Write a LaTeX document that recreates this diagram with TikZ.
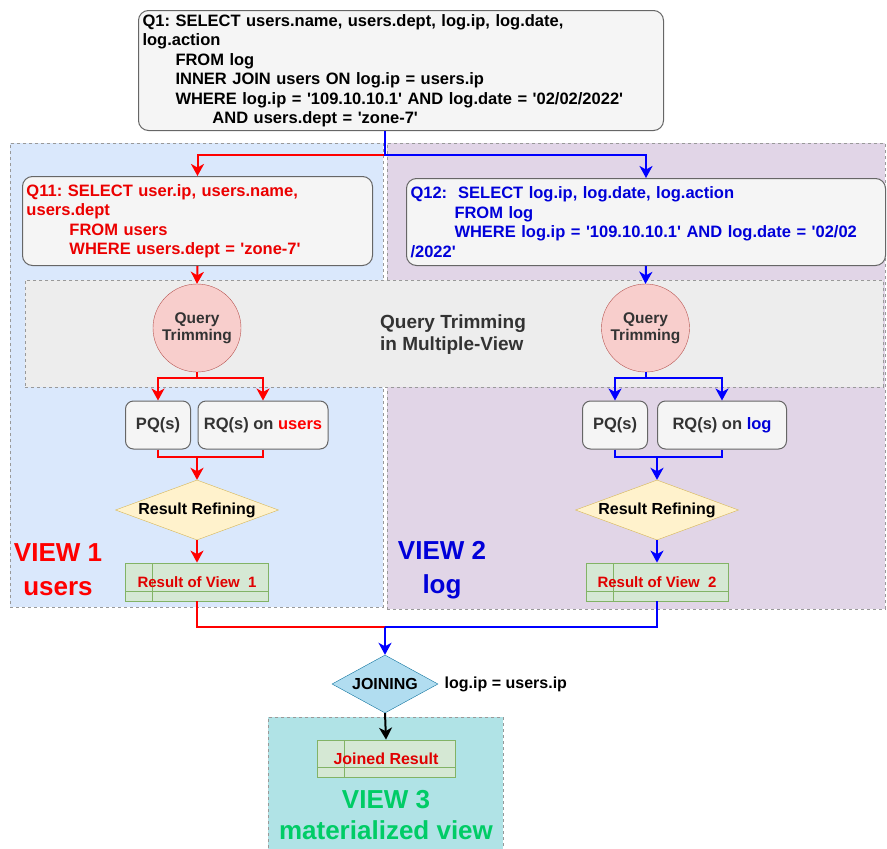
\documentclass[tikz,border=0pt]{standalone}
\usepackage{fontspec}
\setmainfont{Liberation Sans}
\usetikzlibrary{arrows.meta,shapes.geometric,positioning}
\definecolor{qred}{HTML}{FF0000}
\definecolor{qblue}{HTML}{0000FF}
\definecolor{qtext}{HTML}{333333}
\definecolor{viewone}{HTML}{DAE8FC}
\definecolor{viewtwo}{HTML}{E1D5E7}
\definecolor{viewthree}{HTML}{B0E3E6}
\definecolor{trimfill}{HTML}{F8CECC}
\definecolor{trimline}{HTML}{B85450}
\definecolor{refill}{HTML}{FFF2CC}
\definecolor{reline}{HTML}{D6B656}
\definecolor{resfill}{HTML}{D5E8D4}
\definecolor{resline}{HTML}{82B366}
\definecolor{joinfill}{HTML}{B1DDF0}
\definecolor{joinline}{HTML}{10739E}
\definecolor{viewgreen}{HTML}{00CC66}
\newcommand{\qt}{\textquotesingle}
\frenchspacing
\tikzstyle{region}=[draw=black!40,dashed,line width=0.8pt,anchor=north west,inner sep=0pt]
\tikzstyle{query}=[draw=black!60,fill=black!4,rounded corners=10pt,line width=1pt,align=left,anchor=north west,inner sep=3pt,font=\bfseries\fontsize{16.5}{19.5}\selectfont]
\tikzstyle{box}=[draw=black!60,fill=black!4,rounded corners=8pt,line width=1pt,text=qtext,minimum height=48pt,inner sep=0pt,font=\bfseries\fontsize{16.5}{19}\selectfont]
\tikzstyle{trim}=[draw=trimline,fill=trimfill,circle,minimum size=88pt,inner sep=0pt,align=center,text=qtext,font=\bfseries\fontsize{15.5}{17.5}\selectfont]
\tikzstyle{refine}=[draw=reline,fill=refill,diamond,aspect=2.7,inner sep=0pt,minimum width=163pt,minimum height=60pt,font=\bfseries\fontsize{16}{19}\selectfont]
\tikzstyle{restab}=[draw=resline,fill=resfill,line width=0.8pt,minimum height=38pt,text=qred!88!black,font=\bfseries\fontsize{15}{18}\selectfont,
  path picture={\draw[resline,line width=0.8pt]
    ([xshift=27pt]path picture bounding box.north west) -- ([xshift=27pt]path picture bounding box.south west)
    ([yshift=10pt]path picture bounding box.south west) -- ([yshift=10pt]path picture bounding box.south east);}]
\tikzstyle{viewlabel}=[align=center,font=\bfseries\fontsize{26}{34}\selectfont]

\begin{document}
\begin{tikzpicture}[x=1pt,y=-1pt]
\tikzstyle{redline}=[qred,line width=2pt]
\tikzstyle{blueline}=[qblue,line width=2pt]
\tikzstyle{redflow}=[redline,-{Stealth[length=12pt,width=13pt,inset=3.5pt]}]
\tikzstyle{blueflow}=[blueline,-{Stealth[length=12pt,width=13pt,inset=3.5pt]}]
\useasboundingbox (0,0) rectangle (887,849);
  % view regions
  \node[region,fill=viewone,minimum width=373pt,minimum height=464pt] (view1) at (10,143) {};
  \node[region,fill=viewtwo,minimum width=498pt,minimum height=466pt] (view2) at (387,143) {};
  \node[region,fill=black!7,minimum width=858pt,minimum height=107pt] (band) at (25,280) {};
  \node[region,fill=viewthree,minimum width=235pt,minimum height=140pt] (view3) at (268,717) {};

  % queries
  \node[query,minimum width=525pt,minimum height=120pt,text width=517pt] (q1) at (138,10)
    {Q1: SELECT users.name, users.dept, log.ip, log.date,\\
     log.action\\
     \hspace*{33pt}FROM log\\
     \hspace*{33pt}INNER JOIN users ON log.ip = users.ip\\
     \hspace*{33pt}WHERE log.ip = \qt109.10.10.1\qt\ AND log.date = \qt02/02/2022\qt\\
     \hspace*{70pt}AND users.dept = \qt zone-7\qt};
  \node[query,text=qred!92!black,minimum width=350pt,minimum height=89pt,text width=342pt] (q11) at (22,176)
    {Q11: SELECT user.ip, users.name,\\
     users.dept\\
     \hspace*{43pt}FROM users\\
     \hspace*{43pt}WHERE users.dept = \qt zone-7\qt};
  \node[query,text=qblue!85!black,minimum width=479pt,minimum height=87pt,text width=471pt] (q12) at (406,178)
    {Q12:\ \ SELECT log.ip, log.date, log.action\\
     \hspace*{44pt}FROM log\\
     \hspace*{44pt}WHERE log.ip = \qt109.10.10.1\qt\ AND log.date = \qt02/02\\
     /2022\qt};

  % query trimming
  \node[align=left,text=qtext,font=\bfseries\fontsize{19}{22}\selectfont] (bandlabel) at (453,335)
    {Query Trimming\\in Multiple-View};
  \foreach \place/\name in {{(197,328)/ltrim},
                            {(645.5,328)/rtrim}}
    \node[trim] (\name) at \place {Query\\Trimming};
  \foreach \place/\name in {{(158,425)/lpq},
                            {(615,425)/rpq}}
    \node[box,minimum width=65pt] (\name) at \place {PQ(s)};
  \node[box,minimum width=130pt] (lrq) at (263,425) {RQ(s) on \textcolor{qred}{users}};
  \node[box,minimum width=129pt] (rrq) at (722,425) {RQ(s) on \textcolor{qblue!85!black}{log}};
  \foreach \place/\name in {{(197,510)/lref},
                            {(657,510)/rref}}
    \node[refine] (\name) at \place {Result Refining};
  \node[restab,minimum width=143pt] (lres) at (197,582) {Result of View\ \ 1};
  \node[restab,minimum width=142pt] (rres) at (657,582) {Result of View\ \ 2};

  % views
  \node[viewlabel,text=qred] (v1label) at (58,570) {VIEW 1\\users};
  \node[viewlabel,text=qblue!85!black] (v2label) at (442,570) {VIEW 2\\log};

  % joining
  \node[diamond,draw=joinline,fill=joinfill,aspect=1.8,inner sep=0pt,minimum width=106pt,minimum height=58pt,
        font=\bfseries\fontsize{16}{19}\selectfont] (join) at (385,684) {JOINING};
  \node[anchor=west,xshift=3pt,font=\bfseries\fontsize{16}{19}\selectfont] (joinkey) at (join.east) {log.ip = users.ip};
  \node[restab,minimum width=138pt,minimum height=37pt,font=\bfseries\fontsize{16}{19}\selectfont] (joined) at (386,758.5) {Joined Result};
  \node[viewlabel,text=viewgreen,font=\bfseries\fontsize{26}{31}\selectfont] (v3label) at (386,815) {VIEW 3\\materialized view};

  % flows
  \coordinate (split) at (385,155);
  \draw[redflow] (split) -| (q11.north);
  \draw[blueflow] (q1.south -| split) -- (split) -| (q12.north);
  \draw[redflow] (q11.south) -- (ltrim.north);
  \draw[blueflow] (q12.south) -- (rtrim.north);
  \foreach \dest in {lpq,lrq}
    \draw[redflow] (ltrim.south) -- ++(0,6) -| (\dest.north);
  \foreach \dest in {rpq,rrq}
    \draw[blueflow] (rtrim.south) -- ++(0,6) -| (\dest.north);
  \coordinate (lmerge) at (197,457);
  \coordinate (rmerge) at (657,457);
  \draw[redline] (lpq.south) |- (lmerge) -| (lrq.south);
  \draw[blueline] (rpq.south) |- (rmerge) -| (rrq.south);
  \draw[redflow] (lmerge) -- (lref.north);
  \draw[blueflow] (rmerge) -- (rref.north);
  \draw[redflow] (lref.south) -- (lres.north);
  \draw[blueflow] (rref.south) -- (rres.north);
  \coordinate (merge) at (385,627);
  \draw[redline] (lres.south) |- (merge);
  \draw[blueline] (rres.south) |- (merge);
  \draw[blueflow] (merge) -- (join.north);
  \draw[line width=2pt,-{Stealth[length=12pt,width=13pt,inset=3.5pt]}] (join.south) -- (joined.north);
\end{tikzpicture}
\end{document}
